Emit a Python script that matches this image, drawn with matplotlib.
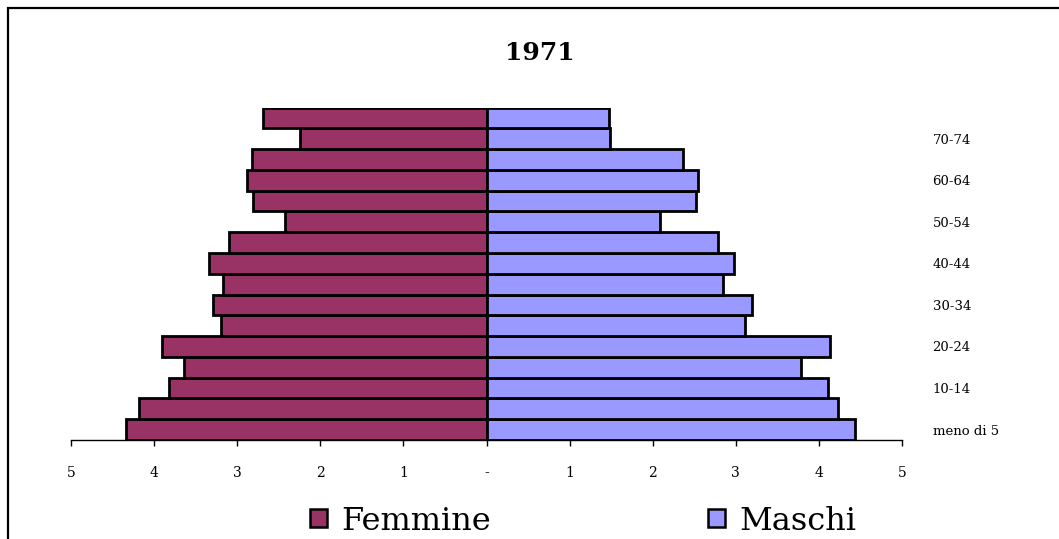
import matplotlib
matplotlib.use("Agg")
import matplotlib.pyplot as plt
from matplotlib.patches import Patch, Rectangle
import numpy as np

# Age classes, bottom to top
eta = ["meno di 5", "5-9", "10-14", "15-19", "20-24", "25-29", "30-34", "35-39",
       "40-44", "45-49", "50-54", "55-59", "60-64", "65-69", "70-74", "75 e più"]
# Percentages
femmine = [4.34, 4.18, 3.82, 3.64, 3.90, 3.20, 3.29, 3.17,
           3.34, 3.10, 2.42, 2.81, 2.88, 2.82, 2.24, 2.69]
maschi = [4.43, 4.23, 4.11, 3.78, 4.13, 3.11, 3.19, 2.84,
          2.98, 2.79, 2.09, 2.52, 2.55, 2.36, 1.49, 1.47]
xticks = [-5, -4, -3, -2, -1, 0, 1, 2, 3, 4, 5]
xticklabels = ["5", "4", "3", "2", "1", "-", "1", "2", "3", "4", "5"]
titolo = "1971"

W, H = 1059, 539
fig = plt.figure(figsize=(W / 100, H / 100), dpi=100)
serif = "DejaVu Serif"

ax = fig.add_axes([71 / W, (H - 440) / H, (902 - 71) / W, (440 - 107.5) / H])
y = np.arange(len(eta))
col_f = "#993366"
col_m = "#9999FF"
ax.barh(y, -np.array(femmine), height=1.0, color=col_f, edgecolor="black", linewidth=2.0)
ax.barh(y, maschi, height=1.0, color=col_m, edgecolor="black", linewidth=2.0)

ax.set_xlim(-5, 5)
ax.set_ylim(-0.5, len(eta) - 0.5)
for s in ["left", "right", "top"]:
    ax.spines[s].set_visible(False)
ax.spines["bottom"].set_linewidth(1.0)

ax.set_xticks(xticks)
ax.set_xticklabels(xticklabels, fontfamily=serif, fontsize=10)
ax.tick_params(axis="x", direction="out", length=4, width=1.0, pad=15)

ax.yaxis.tick_right()
ax.set_yticks(y[::2])
ax.set_yticklabels(eta[::2], fontfamily=serif, fontsize=9.5)
ax.tick_params(axis="y", length=0, pad=22)
for lbl in ax.get_yticklabels():
    lbl.set_horizontalalignment("left")

fig.text(540 / W, 1 - 53 / H, titolo, ha="center", va="center",
         fontfamily=serif, fontweight="bold", fontsize=18)

handles = [Patch(facecolor=col_f, edgecolor="black", linewidth=1.8, label="Femmine"),
           Patch(facecolor=col_m, edgecolor="black", linewidth=1.8, label="Maschi")]
leg = fig.legend(handles=handles, loc="center", bbox_to_anchor=(583 / W, 1 - 521 / H),
                 ncol=2, frameon=False, prop={"family": serif, "size": 23},
                 handlelength=0.52, handleheight=0.52, handletextpad=0.45,
                 columnspacing=6.8, borderpad=0, borderaxespad=0)

fig.patches.append(Rectangle((8 / W, -0.2), 1.2, (H - 7.5) / H + 0.2,
                             transform=fig.transFigure, fill=False,
                             edgecolor="black", linewidth=1.6))

fig.savefig("out.png", dpi=100)
